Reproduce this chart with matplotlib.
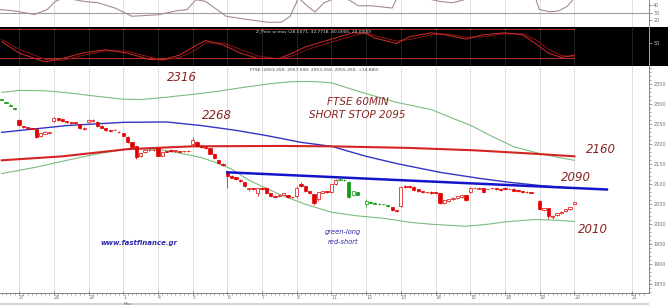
import matplotlib
matplotlib.use("Agg")
import matplotlib.pyplot as plt
import numpy as np
from matplotlib.patches import Rectangle

# ---- candles (60 min bars, 8 per day; index 0 = first bar of the 27th)
bar_idx = [-4, -3, -2, -1,
           0, 1, 2, 3, 4, 5, 6, 7,
           8, 9, 10, 11, 12, 13, 14, 15,
           16, 17, 18, 19, 20, 21, 22, 23,
           24, 25, 26, 27, 28, 29, 30, 31,
           32, 33, 34, 35, 36, 37, 38, 39,
           40, 41, 42, 43, 44, 45, 46, 47,
           48, 49, 50, 51, 52, 53, 54, 55,
           56, 57, 58, 59, 60, 61, 62, 63,
           64, 65, 66, 67, 68, 69, 70, 71,
           72, 73, 74, 75, 76, 77, 78,
           80, 81, 82, 83, 84, 85, 86, 87,
           88, 89, 90, 91, 92, 93, 94, 95,
           96, 97, 98, 99, 100, 101, 102, 103,
           104, 105, 106, 107, 108, 109, 110, 111,
           112, 113, 114, 115, 116, 117, 118,
           120, 121, 122, 123, 124, 125, 126, 127, 128]
opens = [2313, 2306, 2299, 2291,
         2262, 2246, 2243, 2241, 2238, 2221, 2227, 2229,
         2258, 2265, 2263, 2258, 2256, 2255, 2250, 2239,
         2256, 2258, 2256, 2247, 2241, 2236, 2237, 2232,
         2228, 2219, 2205, 2195, 2172, 2180, 2187, 2186,
         2191, 2172, 2183, 2187, 2183, 2183, 2183, 2184,
         2200, 2207, 2197, 2193, 2190, 2177, 2160, 2152,
         2128, 2121, 2118, 2112, 2105, 2088, 2090, 2078,
         2090, 2092, 2078, 2071, 2070, 2074, 2072, 2068,
         2070, 2100, 2097, 2082, 2075, 2062, 2079, 2083,
         2080, 2100, 2111, 2112, 2107, 2073, 2080,
         2050, 2055, 2053, 2051, 2050, 2048, 2042, 2035,
         2045, 2097, 2095, 2094, 2087, 2082, 2080, 2081,
         2080, 2077, 2053, 2058, 2062, 2065, 2067, 2072,
         2080, 2092, 2088, 2090, 2088, 2090, 2090, 2089,
         2092, 2089, 2089, 2085, 2083, 2081, 2080,
         2058, 2036, 2040, 2017, 2023, 2028, 2032, 2038, 2050]
highs = [2314, 2307, 2300, 2292,
         2264, 2247, 2244, 2242, 2239, 2230, 2233, 2232,
         2268, 2267, 2264, 2259, 2257, 2256, 2251, 2243,
         2264, 2263, 2258, 2248, 2242, 2237, 2238, 2233,
         2229, 2220, 2207, 2196, 2179, 2187, 2188, 2187,
         2193, 2181, 2184, 2189, 2187, 2184, 2184, 2185,
         2218, 2208, 2198, 2194, 2191, 2178, 2161, 2153,
         2131, 2123, 2119, 2113, 2106, 2092, 2091, 2092,
         2093, 2094, 2079, 2072, 2074, 2078, 2073, 2069,
         2095, 2106, 2098, 2083, 2076, 2081, 2083, 2084,
         2101, 2113, 2115, 2113, 2108, 2083, 2081,
         2062, 2057, 2055, 2052, 2051, 2049, 2043, 2036,
         2095, 2099, 2096, 2095, 2088, 2083, 2081, 2082,
         2081, 2078, 2061, 2064, 2067, 2071, 2073, 2073,
         2093, 2094, 2093, 2091, 2089, 2091, 2091, 2090,
         2093, 2090, 2090, 2086, 2084, 2082, 2081,
         2060, 2041, 2041, 2022, 2028, 2032, 2038, 2043, 2056]
lows = [2310, 2303, 2295, 2287,
        2245, 2241, 2240, 2238, 2215, 2219, 2225, 2227,
        2256, 2259, 2257, 2254, 2252, 2251, 2239, 2237,
        2255, 2256, 2244, 2240, 2234, 2232, 2235, 2229,
        2220, 2203, 2190, 2163, 2168, 2178, 2184, 2184,
        2170, 2170, 2180, 2182, 2182, 2181, 2182, 2182,
        2198, 2194, 2191, 2189, 2175, 2163, 2151, 2146,
        2092, 2115, 2111, 2106, 2093, 2083, 2085, 2070,
        2086, 2076, 2068, 2067, 2068, 2072, 2066, 2065,
        2066, 2093, 2081, 2075, 2048, 2058, 2077, 2078,
        2078, 2098, 2109, 2108, 2066, 2071, 2072,
        2042, 2052, 2050, 2049, 2048, 2044, 2034, 2030,
        2043, 2092, 2091, 2083, 2081, 2078, 2079, 2076,
        2075, 2050, 2051, 2056, 2060, 2063, 2066, 2058,
        2078, 2090, 2087, 2079, 2087, 2089, 2085, 2084,
        2086, 2088, 2082, 2081, 2078, 2079, 2078,
        2035, 2034, 2014, 2013, 2021, 2026, 2030, 2036, 2048]
closes = [2310, 2303, 2296, 2288,
          2248, 2243, 2241, 2239, 2218, 2228, 2231, 2231,
          2266, 2261, 2259, 2256, 2254, 2253, 2241, 2242,
          2262, 2262, 2246, 2242, 2236, 2234, 2236, 2230,
          2222, 2205, 2193, 2168, 2178, 2186, 2185, 2185,
          2172, 2180, 2181, 2183, 2186, 2182, 2183, 2183,
          2210, 2196, 2193, 2191, 2177, 2165, 2153, 2148,
          2120, 2117, 2113, 2108, 2095, 2090, 2087, 2090,
          2088, 2078, 2070, 2069, 2073, 2077, 2068, 2067,
          2092, 2095, 2083, 2077, 2053, 2080, 2082, 2080,
          2100, 2110, 2113, 2110, 2068, 2082, 2074,
          2058, 2054, 2051, 2050, 2050, 2046, 2036, 2032,
          2093, 2094, 2093, 2085, 2083, 2080, 2080, 2078,
          2077, 2053, 2060, 2063, 2066, 2070, 2072, 2060,
          2092, 2092, 2092, 2081, 2088, 2090, 2087, 2086,
          2088, 2089, 2084, 2083, 2080, 2080, 2079,
          2037, 2040, 2020, 2021, 2027, 2031, 2037, 2042, 2055]
signal = (["g"] * 4 + ["r"] * 74 + ["g"] * 11 + ["r"] * 46)

# ---- moving averages / bands on the price panel
upper_x = [-4, 0, 6, 12, 18, 24, 28, 34, 40, 46, 52, 58, 63, 68, 72, 79, 87, 95, 100, 104, 109, 114, 120, 124, 128]
upper_y = [2330, 2335, 2334, 2328, 2320, 2313, 2312, 2318, 2325, 2333, 2343, 2352, 2357, 2357, 2354, 2330, 2305, 2287, 2265, 2248, 2220, 2194, 2177, 2168, 2160]
lower_x = [-4, 4, 11, 18, 26, 33, 38, 42, 46, 49, 53, 56, 60, 66, 72, 78, 84, 90, 95, 103, 108, 112, 119, 124, 128]
lower_y = [2127, 2143, 2160, 2176, 2190, 2186, 2176, 2167, 2152, 2138, 2110, 2095, 2075, 2050, 2030, 2021, 2015, 2005, 2000, 1995, 2000, 2006, 2012, 2010, 2007]
red_ma_x = [-4, 10, 25, 40, 60, 72, 90, 105, 118, 128]
red_ma_y = [2160, 2170, 2188, 2195, 2196, 2195, 2191, 2185, 2177, 2170]
blue_ma_x = [-4, 11, 24, 34, 42, 50, 57, 65, 72, 80, 87, 97, 106, 113, 120, 128]
blue_ma_y = [2230, 2247, 2255, 2256, 2247, 2235, 2222, 2205, 2195, 2170, 2152, 2130, 2115, 2105, 2097, 2090]
trend_x = [48, 135.5]
trend_y = [2130, 2087]

# ---- stochastic panel
stoch_x = [-4, 0, 6, 10, 15, 20, 25, 30, 33, 37, 41, 43, 47, 51, 55, 60, 63, 66, 72, 77, 80, 82, 87, 90, 95, 98, 103, 107, 112, 116, 119, 122, 125, 128]
stoch_k = [54, 30, 12, 19, 31, 37, 30, 17, 16, 26, 47, 56, 47, 30, 19, 19, 30, 43, 59, 72, 71, 61, 50, 64, 72, 68, 59, 68, 72, 68, 50, 30, 21, 26]
stoch_d = [58, 38, 17, 15, 26, 35, 34, 22, 16, 21, 38, 51, 51, 38, 24, 18, 24, 36, 53, 66, 72, 66, 55, 58, 68, 70, 63, 64, 70, 70, 58, 38, 25, 22]

# ---- top oscillator (cut off at top of the window)
osc_x = [-4.4, -0.5, 3.5, 6.5, 8.3, 10.4, 12.9, 15.2, 18.2, 22.1, 26, 29, 32, 36, 38.7, 40.8, 42.9, 45.6, 47.7, 52.6, 57.4, 60.4, 62.5, 63.9, 64.3, 66.4, 68.2, 70.3, 73.3, 76, 78.2, 81.2, 86, 86.9, 89, 96.8, 99.8, 102.6, 103.7, 119, 119.9, 122.4, 124.3, 126.3, 127.7]
osc_y = [34, 31.7, 27.3, 34, 44.7, 50, 47, 44.7, 43, 36, 25, 26, 27, 32, 34, 47, 45, 34, 25, 20.7, 17, 17, 25, 43, 50, 39, 30.7, 43, 50, 47, 39, 39, 36, 47, 55, 45, 43, 47, 55, 50, 34, 31, 32, 38, 47]

day_ticks = [0, 8, 16, 24, 32, 40, 48, 56, 64, 72, 80, 88, 96, 104, 112, 120, 128, 141.3]
day_labels = ["27", "28", "29", "1", "4", "5", "6", "7", "8", "11", "12", "13",
              "14", "15", "18", "19", "20", "21"]
price_ticks = [1850, 1900, 1950, 2000, 2050, 2100, 2150, 2200, 2250, 2300, 2350]

X0, X1 = -4.4, 145.2
AXW = 649 / 668
GRID = "#dcdcdc"
TICKC = "#707070"

fig = plt.figure(figsize=(6.68, 3.05), dpi=100)
fig.patch.set_facecolor("white")

# black strip behind the stochastic panel, incl. the axis area
fig.patches.append(Rectangle((0, 0.7836), 1, 0.1279, transform=fig.transFigure,
                             facecolor="black", edgecolor="none", zorder=-5))
# scrollbar strip at the bottom
fig.patches.append(Rectangle((0, 0.0), AXW, 0.008, transform=fig.transFigure,
                             facecolor="#d4d4d4", edgecolor="none", zorder=-5))

# ---------------- top oscillator
ax_top = fig.add_axes([0, 0.9115, AXW, 0.0885])
ax_top.set_xlim(X0, X1)
ax_top.set_ylim(10.7, 46.7)
for t in day_ticks:
    ax_top.axvline(t, color=GRID, lw=0.6, zorder=0)
ax_top.axhline(30, color="#a0a0a0", lw=0.8)
ax_top.plot(osc_x, osc_y, color="#a88890", lw=0.8)
ax_top.set_xticks([])
ax_top.yaxis.tick_right()
ax_top.set_yticks([20, 30, 40])
ax_top.tick_params(axis="y", labelsize=3.5, colors=TICKC, length=2, width=0.5, pad=1)
for s in ["top", "left", "bottom"]:
    ax_top.spines[s].set_visible(False)
ax_top.spines["right"].set_color(TICKC)
ax_top.spines["right"].set_linewidth(0.6)

# ---------------- stochastic
ax_st = fig.add_axes([0, 0.7836, AXW, 0.1279])
ax_st.set_facecolor("black")
ax_st.set_xlim(X0, X1)
ax_st.set_ylim(3.4, 84)
for t in day_ticks:
    ax_st.axvline(t, color="#909090", lw=0.5, ls=(0, (1, 2)), zorder=0)
ax_st.plot([X0, 128], [80, 80], color="#b03030", lw=0.7)
ax_st.plot([X0, 128], [20, 20], color="#b03030", lw=0.7)
ax_st.plot(stoch_x, stoch_d, color="#8c1414", lw=0.7)
ax_st.plot(stoch_x, stoch_k, color="#d42a2a", lw=0.7)
ax_st.text(0.484, 0.9, "Z_Pete w mov (28.5071, 32.7718, 80.0000, 20.0000)",
           transform=ax_st.transAxes, ha="center", va="center",
           fontsize=3.2, color="#d8d8d8")
ax_st.set_xticks([])
ax_st.yaxis.tick_right()
ax_st.set_yticks([50])
ax_st.tick_params(axis="y", labelsize=3.5, colors="#c0c0c0", length=2, width=0.5, pad=1)
for s in ["top", "left", "bottom"]:
    ax_st.spines[s].set_visible(False)
ax_st.spines["right"].set_color("#c0c0c0")
ax_st.spines["right"].set_linewidth(0.6)

# ---------------- price panel
ax = fig.add_axes([0, 0.0393, AXW, 0.7443])
ax.set_xlim(X0, X1)
ax.set_ylim(1828, 2396)
for t in day_ticks:
    ax.axvline(t, color=GRID, lw=0.6, zorder=0)

ax.plot(upper_x, upper_y, color="#7dbb7d", lw=0.8, zorder=1)
ax.plot(lower_x, lower_y, color="#7dbb7d", lw=0.8, zorder=1)
ax.plot(blue_ma_x, blue_ma_y, color="#3434c4", lw=1.0, zorder=1)
ax.plot(red_ma_x, red_ma_y, color="#d42424", lw=1.5, zorder=1)
ax.plot(trend_x, trend_y, color="#1414c8", lw=1.8, zorder=4)

col_map = {"r": "#e00000", "g": "#129a12"}
edge_cols = [col_map[s] for s in signal]
face_cols = [edge_cols[i] if closes[i] < opens[i] else "white" for i in range(len(opens))]
body = np.array(closes) - np.array(opens)
ax.vlines(bar_idx, lows, highs, colors=edge_cols, lw=0.5, zorder=2)
ax.bar(bar_idx, body, bottom=opens, width=0.75, color=face_cols,
       edgecolor=edge_cols, linewidth=0.5, zorder=3)

ax.text(0.484, 0.982, "FTSE (2053.250, 2057.500, 2053.250, 2055.250, +14.880)",
        transform=ax.transAxes, ha="center", va="center", fontsize=3.2, color="#404040")

ann = dict(color="#8a2222", fontstyle="italic", ha="center", va="center")
ax.text(37.6, 2366, "2316", fontsize=8.5, **ann)
ax.text(45.6, 2273, "2268", fontsize=8.5, **ann)
ax.text(78, 2305, "FTSE 60MIN", fontsize=7.5, **ann)
ax.text(78, 2273, "SHORT STOP 2095", fontsize=7.5, **ann)
ax.text(134.2, 2186, "2160", fontsize=8.5, **ann)
ax.text(128.4, 2118, "2090", fontsize=8.5, **ann)
ax.text(132.3, 1988, "2010", fontsize=8.5, **ann)
blue_note = dict(color="#2828a8", fontstyle="italic", ha="center", va="center")
ax.text(27.7, 1953, "www.fastfinance.gr", fontsize=5, fontweight="bold", **blue_note)
ax.text(74.7, 1981, "green-long", fontsize=4.8, **blue_note)
ax.text(74.7, 1956, "red-short", fontsize=4.8, **blue_note)

ax.yaxis.tick_right()
ax.set_yticks(price_ticks)
ax.set_yticks(np.arange(1830, 2400, 10), minor=True)
ax.tick_params(axis="y", which="major", labelsize=3.5, colors=TICKC, length=2.5, width=0.5, pad=1)
ax.tick_params(axis="y", which="minor", colors=TICKC, length=1.2, width=0.4)

ax.set_xticks(day_ticks)
ax.set_xticklabels(day_labels, ha="left")
ax.set_xticks(np.arange(-4, 145), minor=True)
ax.tick_params(axis="x", which="major", labelsize=3.3, colors=TICKC, length=2.5,
               width=0.5, pad=0.5, direction="inout")
ax.tick_params(axis="x", which="minor", colors=TICKC, length=1.2, width=0.4)
ax.text(24, -0.047, "May", transform=ax.get_xaxis_transform(), fontsize=2.8,
        color=TICKC, ha="left", va="center")

for s in ["top", "left"]:
    ax.spines[s].set_visible(False)
for s in ["right", "bottom"]:
    ax.spines[s].set_color(TICKC)
    ax.spines[s].set_linewidth(0.6)

fig.savefig("out.png", dpi=100)
